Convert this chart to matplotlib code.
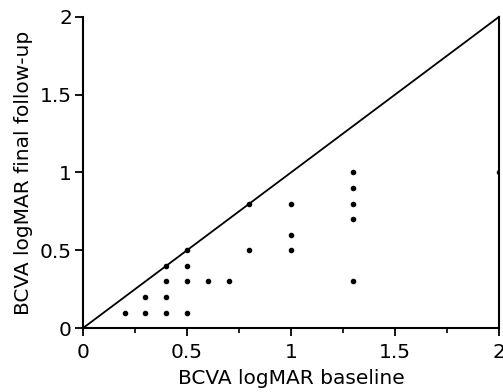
import matplotlib
matplotlib.use("Agg")
from matplotlib import pyplot as plt
from matplotlib.ticker import MultipleLocator

baseline = [0.2, 0.3, 0.3, 0.4, 0.4, 0.4, 0.4, 0.5, 0.5, 0.5, 0.5, 0.6, 0.7,
            0.8, 0.8, 1.0, 1.0, 1.0, 1.3, 1.3, 1.3, 1.3, 1.3, 2.0]
final = [0.1, 0.1, 0.2, 0.1, 0.2, 0.3, 0.4, 0.1, 0.3, 0.4, 0.5, 0.3, 0.3,
         0.5, 0.8, 0.5, 0.6, 0.8, 0.3, 0.7, 0.8, 0.9, 1.0, 1.0]
diag = [0, 2]
tick_vals = [0, 0.5, 1, 1.5, 2]
tick_labels = ["0", "0.5", "1", "1.5", "2"]

plt.rcParams["font.family"] = ["DejaVu Sans"]

fig = plt.figure(figsize=(5.03, 3.92), dpi=100)
ax = fig.add_axes([0.165, 0.163, 0.827, 0.794])

ax.plot(diag, diag, color="black", linewidth=1.3, clip_on=False)
ax.scatter(baseline, final, s=9, color="black", zorder=3, clip_on=True)

ax.set_xlim(0, 2)
ax.set_ylim(0, 2)
ax.set_xticks(tick_vals)
ax.set_xticklabels(tick_labels)
ax.set_yticks(tick_vals)
ax.set_yticklabels(tick_labels)
ax.xaxis.set_minor_locator(MultipleLocator(0.25))

ax.spines["top"].set_visible(False)
for s in ["left", "bottom", "right"]:
    ax.spines[s].set_linewidth(1.5)

ax.tick_params(axis="both", which="major", direction="out", length=6,
               width=1.3, labelsize=14.5)
ax.tick_params(axis="x", which="major", pad=5)
ax.tick_params(axis="y", which="major", pad=2)
ax.tick_params(axis="x", which="minor", direction="out", length=3.5, width=1.2)

ax.set_xlabel("BCVA logMAR baseline", fontsize=14.5, labelpad=5)
ax.set_ylabel("BCVA logMAR final follow-up", fontsize=14.5, labelpad=5)

fig.savefig("out.png", dpi=100)
